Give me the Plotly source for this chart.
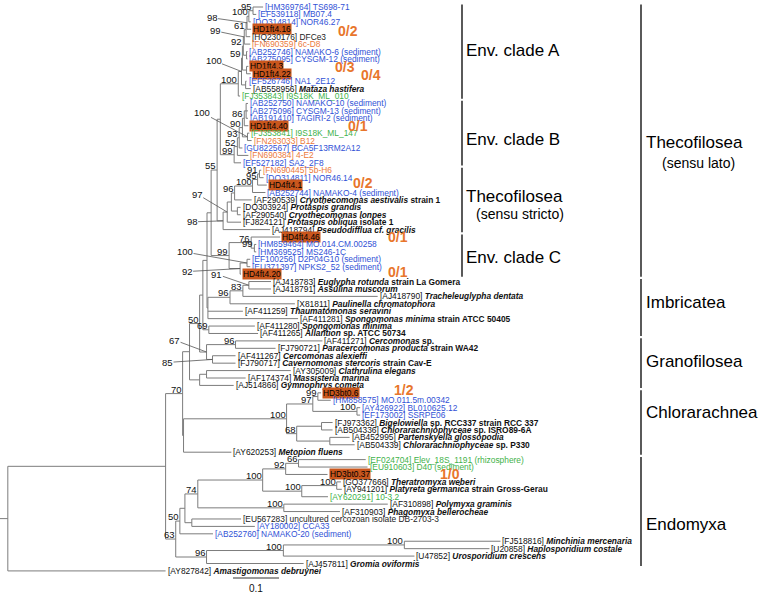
import plotly.graph_objects as go

# ---------------- data ----------------
leaf_acc = ["HM369764", "EF539118", "DQ314814", "", "HQ230176", "FN690359", "AB252746", "AB275095", "", "",
            "EF526746", "AB558956", "FJ353843", "AB252750", "AB275096", "AB191410", "", "FJ353841", "FN263033", "GU822567",
            "FN690384", "EF527182", "FN690445", "DQ314811", "", "AB252744", "AF290539", "DQ303924", "AF290540", "FJ824121",
            "AJ418794", "", "HM859464", "HM369525", "EF100256", "EU371397", "", "AJ418783", "AJ418791", "AJ418790",
            "X81811", "AF411259", "AF411281", "AF411280", "AF411265", "AF411271", "FJ790721", "AF411267", "FJ790717", "AY305009",
            "AF174374", "AJ514866", "", "HM858575", "AY426922", "EF173002", "FJ973362", "AB504336", "AB452995", "AB504339",
            "AY620253", "EF024704", "EU910603", "", "GQ377666", "AY941201", "AY620291", "AF310898", "AF310903", "EU567283",
            "AY180002", "AB252760", "FJ518816", "U20858", "U47852", "AJ457811", "AY827842"]
leaf_desc = ["TS698-71", "MB07.4", "NOR46.27", "HD1ft4.16", "DFCe3", "6c-D8", "NAMAKO-6 (sediment)", "CYSGM-12 (sediment)", "HD1ft4.3", "HD1ft4.22",
             "NA1_2E12", "<i>Mataza hastifera</i>", "I9S18K_ML_010", "NAMAKO-10 (sediment)", "CYSGM-13 (sediment)", "TAGIRI-2 (sediment)", "HD1ft4.40", "I9S18K_ML_147", "B12", "BCA5F13RM2A12",
             "4-E2", "SA2_2F8", "5b-H6", "NOR46.14", "HD4ft4.1", "NAMAKO-4 (sediment)", "<i>Cryothecomonas aestivalis</i> strain 1", "<i>Protaspis grandis</i>", "<i>Cryothecomonas lonpes</i>", "<i>Protaspis obliqua</i> isolate 1",
             "<i>Pseudodifflua cf. gracilis</i>", "HD4ft4.46", "MO.014.CM.00258", "MS246-1C", "D2P04G10 (sediment)", "NPKS2_52 (sediment)", "HD4ft4.20", "<i>Euglypha rotunda</i> strain La Gomera", "<i>Assulina muscorum</i>", "<i>Tracheleuglypha dentata</i>",
             "<i>Paulinella chromatophora</i>", "<i>Thaumatomonas seravini</i>", "<i>Spongomonas minima</i> strain ATCC 50405", "<i>Spongomonas minima</i>", "<i>Allantion</i> sp. ATCC 50734", "<i>Cercomonas</i> sp.", "<i>Paracercomonas producta</i> strain WA42", "<i>Cercomonas alexieffi</i>", "<i>Cavernomonas stercoris</i> strain Cav-E", "<i>Clathrulina elegans</i>",
             "<i>Massisteria marina</i>", "<i>Gymnophrys cometa</i>", "HD3bt0.6", "MO.011.5m.00342", "BL010625.12", "SSRPE06", "<i>Bigelowiella</i> sp. RCC337 strain RCC 337", "<i>Chlorarachniophyceae</i> sp. ISRO89-6A", "<i>Partenskyella glossopodia</i>", "<i>Chlorarachniophyceae</i> sp. P330",
             "<i>Metopion fluens</i>", "Elev_18S_1191 (rhizosphere)", "D40 (sediment)", "HD3bt0.37", "<i>Theratromyxa weberi</i>", "<i>Platyreta germanica</i> strain Gross-Gerau", "10-3.2", "<i>Polymyxa graminis</i>", "<i>Phagomyxa bellerocheae</i>", "uncultured cercozoan isolate DB-2703-3",
             "CCA33", "NAMAKO-20 (sediment)", "<i>Minchinia mercenaria</i>", "<i>Haplosporidium costale</i>", "<i>Urosporidium crescens</i>", "<i>Gromia oviformis</i>", "<i>Amastigomonas debruynei</i>"]
leaf_kind = ["blue", "blue", "blue", "hd", "black", "orange", "blue", "blue", "hd", "hd",
             "blue", "sp", "green", "blue", "blue", "blue", "hd", "green", "orange", "blue",
             "orange", "blue", "orange", "blue", "hd", "blue", "sp", "sp", "sp", "sp",
             "sp", "hd", "blue", "blue", "blue", "blue", "hd", "sp", "sp", "sp",
             "sp", "sp", "sp", "sp", "sp", "sp", "sp", "sp", "sp", "sp",
             "sp", "sp", "hd", "blue", "blue", "blue", "sp", "sp", "sp", "sp",
             "sp", "green", "green", "hd", "sp", "sp", "green", "sp", "sp", "black",
             "blue", "blue", "sp", "sp", "sp", "sp", "sp"]
leaf_parent = ["a1", "a1", "a2", "a3", "a4", "a6", "a5", "a5", "a8", "a8",
               "aNM", "aNM", "cladeA", "b1", "b1", "b1", "b2", "b3", "b3", "b5",
               "b6", "cladeB", "t1", "t1", "t2", "t3", "t4", "t5", "t5", "t7",
               "t8", "c1", "c2", "c2", "c4", "c4", "c5", "nEA", "nEA", "n83",
               "n96i", "nImb", "nImb", "n69", "n69", "n96c", "n96c", "n85", "n85", "nCM",
               "nCM", "nG", "n99", "n99", "n100b", "n100b", "nBig", "nBig", "nP", "nP",
               "n184", "n66", "n66", "n92", "n100T", "n100T", "n100E", "n100P", "n100P", "n192",
               "n192", "n50e", "nH1", "nH1", "nH2", "n96g", "root"]
leaf_len = [0.022, 0.007, 0.004, 0.009, 0.009, 0.013, 0.002, 0.002, 0.004, 0.009,
            0.002, 0.011, 0.004, 0.004, 0.004, 0.004, 0.009, 0.004, 0.009, 0.007,
            0.024, 0.015, 0.004, 0.009, 0.020, 0.028, 0.037, 0.007, 0.007, 0.030,
            0.102, 0.063, 0.004, 0.004, 0.007, 0.007, 0.002, 0.048, 0.048, 0.293,
            0.141, 0.076, 0.196, 0.100, 0.107, 0.189, 0.087, 0.050, 0.050, 0.183,
            0.085, 0.074, 0.007, 0.028, 0.007, 0.007, 0.024, 0.024, 0.043, 0.054,
            0.104, 0.146, 0.150, 0.091, 0.009, 0.011, 0.057, 0.226, 0.122, 0.107,
            0.137, 0.072, 0.209, 0.185, 0.285, 0.211, 0.343]

node_id = ["root", "ingroup", "n70", "n63", "n190", "n184", "n50", "nG", "n203", "n207",
           "n207b", "n69", "n211", "nImb", "n55", "c3", "cladeA", "cladeB", "t8", "a11",
           "a9", "aNM", "a7", "a8", "a6", "a5", "a4", "a3", "a2", "a1",
           "b6", "b5", "b4", "b2", "b1", "b3", "t7", "t6", "t4", "t5",
           "t3", "t2", "t1", "c1", "c2", "c5", "c4", "n96i", "n83", "nEA",
           "n96c", "n85", "nCM", "n100C", "n97", "n99", "n100b", "n68", "nBig", "nP",
           "n50e", "n96g", "n185", "n74", "n192", "n100V", "n100P", "n92", "n66", "n100E",
           "n100T", "nH2", "nH1", "nAB"]
node_parent = [None, "root", "ingroup", "ingroup", "n70", "n70", "n190", "n190", "n50", "n50",
               "n203", "n203", "n207b", "n207b", "n211", "n211", "nAB", "nAB", "n55", "cladeA",
               "a11", "a11", "a9", "a9", "a7", "a7", "a6", "a4", "a3", "a2",
               "cladeB", "b6", "b5", "b4", "b2", "b4", "t8", "t7", "t6", "t6",
               "t4", "t3", "t2", "c3", "c1", "c3", "c5", "nImb", "n96i", "n83",
               "n207", "n207", "nG", "n184", "n100C", "n97", "n97", "n100C", "n68", "n68",
               "n63", "n63", "n50e", "n185", "n185", "n74", "n74", "n100V", "n92", "n100V",
               "n100E", "n96g", "nH2", "n55"]
node_len = [0.017, 0.343, 0.037, 0.022, 0.015, 0.002, 0.022, 0.022, 0.007, 0.015,
            0.009, 0.013, 0.009, 0.002, 0.013, 0.039, 0.039, 0.030, 0.013, 0.007,
            0.002, 0.009, 0.002, 0.009, 0.002, 0.007, 0.004, 0.002, 0.004, 0.009,
            0.007, 0.004, 0.007, 0.004, 0.004, 0.011, 0.009, 0.009, 0.007, 0.013,
            0.039, 0.011, 0.004, 0.048, 0.007, 0.024, 0.015, 0.048, 0.028, 0.013,
            0.063, 0.013, 0.015, 0.224, 0.057, 0.011, 0.096, 0.022, 0.054, 0.072,
            0.009, 0.067, 0.011, 0.028, 0.015, 0.141, 0.187, 0.050, 0.028, 0.085,
            0.076, 0.167, 0.263, 0.007]
node_support = [None, None, 70, 63, None, None, 50, None, None, 67,
                None, 69, None, None, 55, 99, 100, 99, 98, 100,
                59, None, 92, None, 99, None, 61, 98, 100, 95,
                52, 93, 90, 86, None, 100, 97, None, 96, None,
                100, 95, 91, 76, 99, 92, 100, 96, 83, 91,
                96, 85, None, 100, 97, 99, 100, 68, None, None,
                50, 96, None, 74, None, 100, 100, 92, 66, 100,
                100, 100, 100, None]

# read counts next to the HD sequences
count_leaf = [3, 8, 9, 16, 24, 31, 36, 52, 63]
count_text = ["0/2", "0/3", "0/4", "0/1", "0/2", "0/1", "0/1", "1/2", "1/0"]

# clade brackets: (label, first leaf, last leaf)
inner_groups = [("Env. clade A", 0, 12), ("Env. clade B", 13, 21),
                ("Thecofilosea", 22, 30), ("Env. clade C", 31, 36)]
outer_groups = [("Thecofilosea", 0, 36), ("Imbricatea", 37, 44), ("Granofilosea", 45, 51),
                ("Chlorarachnea", 52, 60), ("Endomyxa", 61, 75)]
scale_value = 0.1

# ---------------- layout constants ----------------
W, H = 764, 593
PX_PER_UNIT = 460.0
ROW_PX = 7.42
TOP_PX = 7.0
xr = [0, W / PX_PER_UNIT]
yr = [(H - TOP_PX) / ROW_PX, -TOP_PX / ROW_PX]
px2x = lambda p: p / PX_PER_UNIT
px2y = lambda p: (p - TOP_PX) / ROW_PX

LINE_C = "#7c7c7c"
FONT = "Liberation Sans, Arial, sans-serif"
COL = {"blue": "#3152d6", "green": "#3fb24a", "orange": "#ec7a3c", "black": "#222222", "sp": "#111111"}
BOX_C = "#c9561d"
CNT_C = "#e8762c"

# ---------------- tree layout ----------------
children = {n: [] for n in node_id}
for n, p in zip(node_id, node_parent):
    if p is not None:
        children[p].append(("node", n))
for i, p in enumerate(leaf_parent):
    children[p].append(("leaf", i))

depth = {}
plen = dict(zip(node_id, node_len))
ppar = dict(zip(node_id, node_parent))


def node_depth(n):
    if n in depth:
        return depth[n]
    p = ppar[n]
    d = plen[n] + (node_depth(p) if p is not None else 0.0)
    depth[n] = d
    return d


for n in node_id:
    node_depth(n)
leaf_x = [depth[p] + l for p, l in zip(leaf_parent, leaf_len)]

ypos = {}


def node_y(n):
    if n in ypos:
        return ypos[n]
    ys = [node_y(c) if k == "node" else float(c) for k, c in children[n]]
    ypos[n] = (min(ys) + max(ys)) / 2
    return ypos[n]


node_y("root")

lx, ly = [], []
for n in node_id:
    p = ppar[n]
    x0 = depth[p] if p is not None else 0.0
    lx += [x0, depth[n], None]
    ly += [ypos[n], ypos[n], None]
    ys = [ypos[c] if k == "node" else float(c) for k, c in children[n]]
    lx += [depth[n], depth[n], None]
    ly += [min(ys), max(ys), None]
for i, p in enumerate(leaf_parent):
    lx += [depth[p], leaf_x[i], None]
    ly += [i, i, None]

fig = go.Figure()
fig.add_trace(go.Scatter(x=lx, y=ly, mode="lines", line=dict(color=LINE_C, width=1),
                         hoverinfo="skip", showlegend=False))

ann = []
# leaf labels
for i in range(len(leaf_acc)):
    k = leaf_kind[i]
    if k == "hd":
        ann.append(dict(x=leaf_x[i], y=i, text=leaf_desc[i], xanchor="left", yanchor="middle",
                        xshift=1, showarrow=False, bgcolor=BOX_C, borderpad=0,
                        font=dict(family=FONT, size=8.4, color="#000000")))
    else:
        if k == "sp":
            txt = "[%s] <b>%s</b>" % (leaf_acc[i], leaf_desc[i])
        else:
            txt = "[%s] %s" % (leaf_acc[i], leaf_desc[i])
        ann.append(dict(x=leaf_x[i], y=i, text=txt, xanchor="left", yanchor="middle",
                        xshift=1, showarrow=False, borderpad=0,
                        font=dict(family=FONT, size=8.4, color=COL[k])))

# support values; some are placed away from their node with a leader line
leader = {"a3": (-35, -5), "a6": (-29, -6), "a11": (-28, -11), "b3": (-45, -24),
          "t7": (-30, -18), "t8": (-31, 1), "c4": (-62, -11), "c5": (-53, 3),
          "nEA": (-32, -11), "n207": (-32, -12), "n85": (-45, 3)}
for n, s in zip(node_id, node_support):
    if s is None:
        continue
    if n in leader:
        ax, ay = leader[n]
        ann.append(dict(x=depth[n], y=ypos[n], text=str(s), showarrow=True, arrowhead=0,
                        arrowwidth=0.8, arrowcolor="#555555", ax=ax, ay=ay, standoff=0,
                        borderpad=0, font=dict(family=FONT, size=9.5, color="#111111")))
    else:
        ann.append(dict(x=depth[n], y=ypos[n], text=str(s), xanchor="right", yanchor="bottom",
                        yshift=-2, showarrow=False, borderpad=0,
                        font=dict(family=FONT, size=9.5, color="#111111")))

# counts
count_px = [348, 345, 371, 358, 363, 398, 398, 404, 450]
count_dy = [2, 1, 1, 0, -2, 0, -2, -3, 0]
for li, t, cx, dy in zip(count_leaf, count_text, count_px, count_dy):
    ann.append(dict(x=px2x(cx), y=li, text="<b>%s</b>" % t, xanchor="center", yanchor="middle",
                    yshift=-dy, showarrow=False, borderpad=0,
                    font=dict(family=FONT, size=14, color=CNT_C)))

# brackets
shapes = []
inner_x, outer_x = px2x(462), px2x(641)
for lab, a, b in inner_groups:
    shapes.append(dict(type="line", x0=inner_x, x1=inner_x, y0=a - 0.35, y1=b + 0.35,
                       line=dict(color="#000000", width=1.3)))
for lab, a, b in outer_groups:
    shapes.append(dict(type="line", x0=outer_x, x1=outer_x, y0=a - 0.35, y1=b + 0.35,
                       line=dict(color="#000000", width=1.3)))

big = dict(family=FONT, size=17, color="#000000")
small = dict(family=FONT, size=14, color="#000000")
inner_lab_y = [5.8, 17.9, 25.6, 33.7]
for (lab, a, b), yy in zip(inner_groups, inner_lab_y):
    ann.append(dict(x=px2x(465), y=yy, text=lab, xanchor="left", yanchor="middle",
                    showarrow=False, borderpad=0, font=big))
ann.append(dict(x=px2x(520), y=27.9, text="(sensu stricto)", xanchor="center", yanchor="middle",
                showarrow=False, borderpad=0, font=small))
outer_lab_y = [18.3, 39.8, 47.8, 54.7, 69.8]
for (lab, a, b), yy in zip(outer_groups, outer_lab_y):
    ann.append(dict(x=px2x(645), y=yy, text=lab, xanchor="left", yanchor="middle",
                    showarrow=False, borderpad=0, font=big))
ann.append(dict(x=px2x(698), y=21.0, text="(sensu lato)", xanchor="center", yanchor="middle",
                showarrow=False, borderpad=0, font=small))

# scale bar
sb_x0 = px2x(233)
sb_y = px2y(578)
fig.add_trace(go.Scatter(x=[sb_x0, sb_x0 + scale_value], y=[sb_y, sb_y], mode="lines",
                         line=dict(color="#333333", width=1), hoverinfo="skip", showlegend=False))
ann.append(dict(x=sb_x0 + scale_value / 2, y=px2y(588), text=str(scale_value), xanchor="center",
                yanchor="middle", showarrow=False, borderpad=0,
                font=dict(family=FONT, size=10, color="#111111")))

fig.update_layout(width=W, height=H, margin=dict(l=0, r=0, t=0, b=0),
                  paper_bgcolor="white", plot_bgcolor="white",
                  xaxis=dict(range=xr, visible=False, fixedrange=True),
                  yaxis=dict(range=yr, visible=False, fixedrange=True),
                  annotations=ann, shapes=shapes, showlegend=False)

fig.write_html("out.html", config={"displayModeBar": False},
               post_script="document.body.style.margin='0';")
